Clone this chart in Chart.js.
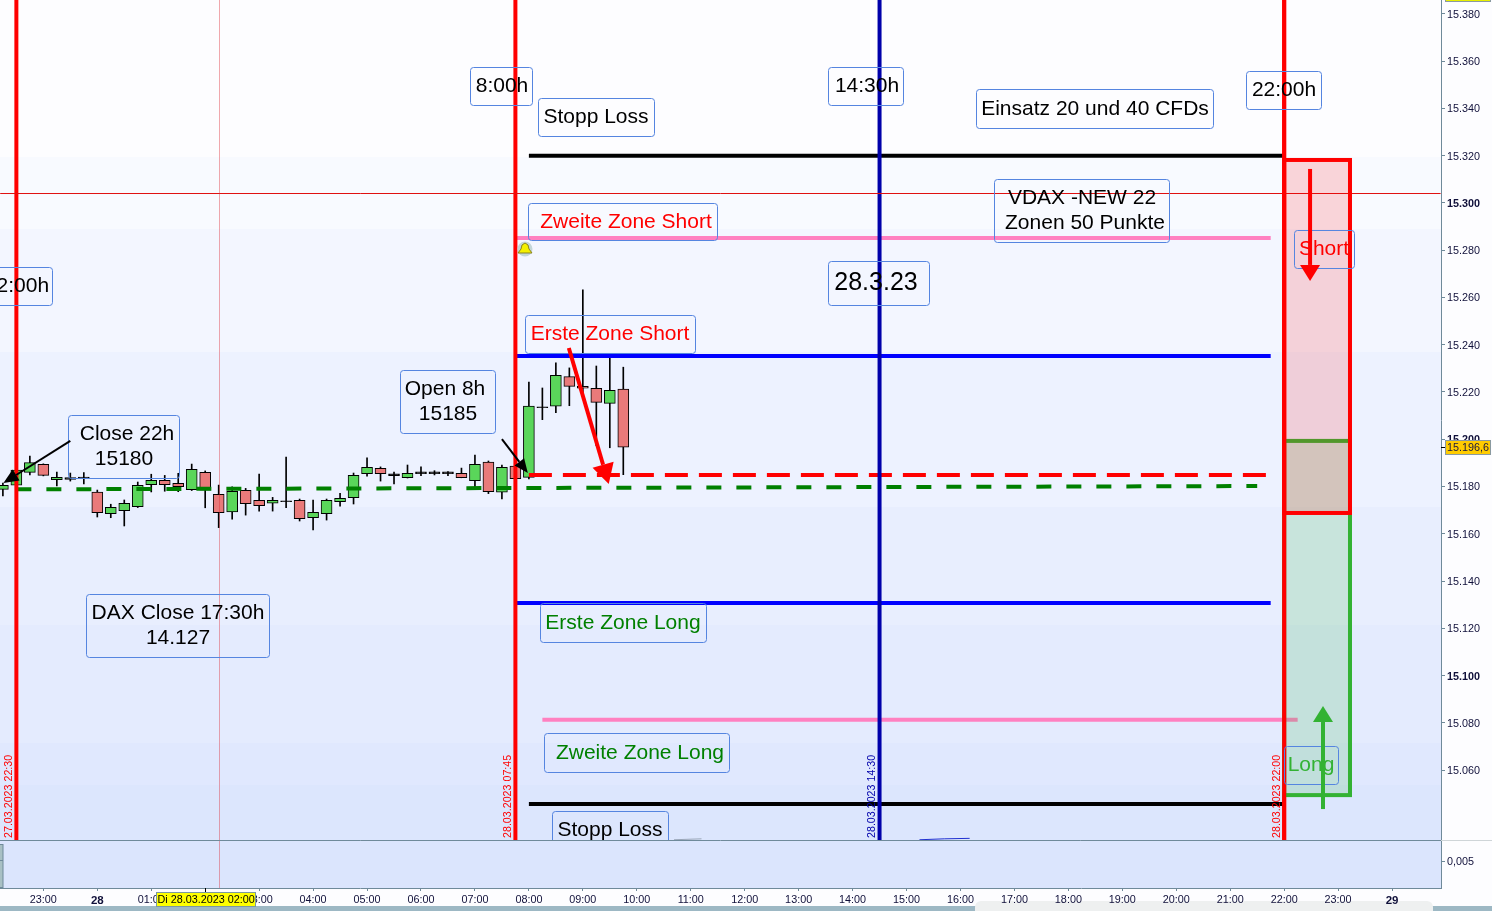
<!DOCTYPE html>
<html>
<head>
<meta charset="utf-8">
<title>DAX 28.3.23</title>
<style>
  html, body { margin: 0; padding: 0; background: #fdfdff; overflow: hidden; }
  canvas { display: block; }
</style>
<script src="https://cdn.jsdelivr.net/npm/chart.js@4/dist/chart.umd.min.js"></script>
</head>
<body>
<canvas id="chart" width="1492" height="911"></canvas>
<script>
// Kerzen, 15 Minuten, Stunden relativ zu 28.03. 00:00
const candleHours = [-1.75,-1.5,-1.25,-1,-0.75,-0.5,-0.25,0,0.25,0.5,0.75,1,1.25,1.5,1.75,2,2.25,2.5,2.75,3,3.25,3.5,3.75,4,4.25,4.5,4.75,5,5.25,5.5,5.75,6,6.25,6.5,6.75,7,7.25,7.5,7.75,8,8.25,8.5,8.75,9,9.25,9.5,9.75];
const opens = [15178.8,15180.6,15186.0,15189.4,15182.9,15183.0,15183.3,15177.6,15168.5,15169.8,15171.5,15180.8,15182.6,15181.4,15178.7,15186.0,15176.7,15169.3,15178.4,15174.2,15172.9,15173.6,15174.2,15166.8,15168.5,15173.6,15175.3,15185.4,15187.7,15185.4,15183.7,15186.2,15186.2,15186.2,15185.6,15182.5,15190.3,15177.6,15188.6,15183.9,15213.4,15214.0,15226.5,15222.4,15221.6,15215.2,15221.2];
const closes = [15180.5,15187.0,15190.1,15184.7,15183.9,15183.8,15184.0,15168.9,15171.2,15172.9,15180.5,15182.6,15180.8,15179.9,15187.3,15178.5,15168.9,15178.0,15172.7,15171.9,15174.2,15173.9,15166.4,15169.1,15174.2,15175.0,15184.7,15188.1,15185.4,15184.6,15185.6,15185.4,15185.4,15185.4,15183.7,15189.4,15177.8,15188.1,15183.3,15214.0,15213.7,15227.1,15222.4,15221.6,15215.6,15220.7,15196.6];
const highs = [15181.5,15187.8,15192.9,15189.6,15186.1,15185.7,15185.9,15178.5,15172.5,15174.3,15181.9,15185.2,15184.7,15185.6,15189.5,15186.6,15180.6,15179.9,15179.2,15185.3,15175.4,15192.5,15174.7,15174.3,15174.7,15177.1,15185.7,15192.1,15188.3,15186.1,15189.1,15188.3,15186.7,15186.3,15187.8,15193.3,15190.8,15189.1,15189.1,15224.2,15221.7,15232.3,15230.2,15263.2,15231.0,15234.3,15230.5];
const lows = [15176.0,15179.8,15184.9,15184.5,15180.3,15182.3,15181.1,15167.1,15166.8,15163.3,15171.1,15177.7,15178.0,15177.8,15178.3,15171.0,15162.6,15166.2,15167.9,15169.6,15169.6,15171.0,15165.4,15161.6,15165.8,15171.7,15172.6,15184.4,15182.3,15181.1,15183.6,15184.6,15184.9,15184.6,15183.7,15179.9,15177.0,15174.8,15182.8,15183.2,15208.3,15211.2,15214.2,15219.6,15197.3,15196.4,15185.0];

// Zonen und Level (Preis)
const stopShort = 15320, stopLong = 15045.6;
const zone2Short = 15285.2, zone1Short = 15235.2;
const zone1Long = 15130.7, zone2Long = 15081.3;
const open8h = 15184.9;
const close22h = [15178.8, 15180.2];
const crossPrice = 15304.0, crossHour = 2.256;
const lastPrice = 15196.6;

// Zeitmarken (Stunden)
const sessionHours = [-1.5, 7.75, 22];
const usOpenHour = 14.5;
const sessionLabels = ['27.03.2023 22:30', '28.03.2023 07:45', '28.03.2023 22:00'];
const usOpenLabel = '28.03.2023 14:30';

// Achsen
const xTickHours = [-1,0,1,2,3,4,5,6,7,8,9,10,11,12,13,14,15,16,17,18,19,20,21,22,23,24];
const xTickLabels = ['23:00','28','01:00','02:00','03:00','04:00','05:00','06:00','07:00','08:00','09:00','10:00','11:00','12:00','13:00','14:00','15:00','16:00','17:00','18:00','19:00','20:00','21:00','22:00','23:00','29'];
const yTickValues = [15380,15360,15340,15320,15300,15280,15260,15240,15220,15200,15180,15160,15140,15120,15100,15080,15060];
const yTickLabels = ['15.380','15.360','15.340','15.320','15.300','15.280','15.260','15.240','15.220','15.200','15.180','15.160','15.140','15.120','15.100','15.080','15.060'];
const boldPrices = [15300, 15200, 15100];

const FONT = '"Liberation Sans", Arial, sans-serif';
const AXIS = '#6f8a9a';
const GREEN = '#33b233';

function hline(data, color, width, dash, order) {
    return { type: 'line', data, borderColor: color, borderWidth: width, borderDash: dash || [],
             pointRadius: 0, tension: 0, fill: false, order: order || 1, borderCapStyle: 'butt' };
}

const Y_MIN = 15030.4, Y_MAX = 15385.9;

function candleColor(i) {
    if (Math.abs(closes[i] - opens[i]) < 0.5 || (Math.abs(closes[i] - opens[i]) < 0.9 && i !== 42 && i !== 43)) return '#000000';
    return closes[i] >= opens[i] ? '#5ad65a' : '#e97a7a';
}

const datasets = [
    hline([{x: -1.8, y: crossPrice}, {x: 24.9, y: crossPrice}], '#e01010', 1, null, 0),
    hline([{x: sessionHours[0], y: Y_MIN}, {x: sessionHours[0], y: Y_MAX}], '#ff0000', 4),
    hline([{x: sessionHours[1], y: Y_MIN}, {x: sessionHours[1], y: Y_MAX}], '#ff0000', 4),
    hline([{x: sessionHours[2], y: Y_MIN}, {x: sessionHours[2], y: Y_MAX}], '#ff0000', 4),
    hline([{x: usOpenHour, y: Y_MIN}, {x: usOpenHour, y: Y_MAX}], '#0000aa', 4),
    hline([{x: 8, y: stopShort}, {x: 22, y: stopShort}], '#000000', 4),
    hline([{x: 7.75, y: zone2Short}, {x: 21.75, y: zone2Short}], '#ff80c0', 4),
    hline([{x: 7.75, y: zone1Short}, {x: 21.75, y: zone1Short}], '#0000ff', 4),
    hline([{x: 7.75, y: zone1Long}, {x: 21.75, y: zone1Long}], '#0000ff', 4),
    hline([{x: 8.25, y: zone2Long}, {x: 22.25, y: zone2Long}], '#ff80c0', 4),
    hline([{x: 8, y: stopLong}, {x: 22, y: stopLong}], '#000000', 4),
    hline([{x: 8, y: open8h}, {x: 21.7, y: open8h}], '#ff0000', 4, [23, 11]),
    hline([{x: -1.5, y: close22h[0]}, {x: 21.5, y: close22h[1]}], '#008000', 4, [15, 15]),
    hline([{x: 10.69, y: 15030.5}, {x: 11.2, y: 15030.9}], '#9aa6b8', 1),
    hline([{x: 15.24, y: 15030.5}, {x: 15.7, y: 15030.9}, {x: 16.17, y: 15031.1}], '#2030d0', 1),
    {
        type: 'bar', order: 5, grouped: false, barThickness: 11, borderWidth: 1, borderColor: '#000000',
        borderSkipped: false,
        backgroundColor: candleHours.map((h, i) => candleColor(i)),
        data: candleHours.map((h, i) => ({x: h, y: [opens[i], closes[i]]}))
    },
    {
        type: 'bar', order: 6, grouped: false, barThickness: 1, borderWidth: 0, backgroundColor: '#000000',
        data: candleHours.map((h, i) => ({x: h, y: [lows[i], highs[i]]}))
    }
];

// Hintergrund-Streifen: Unterkante in Pixel, Farbe
const bands = [[157, '#fdfdff'], [229, '#f8faff'], [352, '#f3f6ff'], [507, '#edf2ff'], [625, '#e8eefe'], [743, '#e4ebfe'], [785, '#e0e8fe'], [840, '#dce6fd']];

// Beschriftungen: Text, Box, Farbe, Schriftgrad, Textmitte
const labels = [
    {lines: ['8:00h'], box: [470, 67, 533, 106], cx: 502},
    {lines: ['14:30h'], box: [828, 67, 904, 106], cx: 867},
    {lines: ['22:00h'], box: [1246, 71, 1322, 110], cx: 1284},
    {lines: ['Stopp Loss'], box: [538, 98, 655, 137], cx: 596},
    {lines: ['Einsatz 20 und 40 CFDs'], box: [976, 89, 1214, 129], cx: 1095},
    {lines: ['VDAX -NEW 22', 'Zonen 50 Punkte'], box: [994, 179, 1170, 243], cx: 1083, cxs: [1082, 1085]},
    {lines: ['Zweite Zone Short'], box: [528, 203, 718, 241], cx: 626, color: '#ff0000'},
    {lines: ['28.3.23'], box: [828, 261, 930, 306], cx: 876, size: 25},
    {lines: ['22:00h'], box: [-23, 267, 53, 306], cx: 17},
    {lines: ['Erste Zone Short'], box: [525, 315, 696, 354], cx: 610, color: '#ff0000'},
    {lines: ['Open 8h', '15185'], box: [400, 370, 496, 434], cx: 447, cxs: [445, 448]},
    {lines: ['Close 22h', '15180'], box: [68, 415, 180, 479], cx: 126, cxs: [127, 124]},
    {lines: ['DAX Close 17:30h', '14.127'], box: [86, 594, 270, 658], cx: 178},
    {lines: ['Erste Zone Long'], box: [540, 603, 707, 643], cx: 623, color: '#008000'},
    {lines: ['Zweite Zone Long'], box: [544, 733, 730, 773], cx: 640, color: '#008000'},
    {lines: ['Stopp Loss'], box: [552, 811, 669, 850], cx: 610},
    {lines: ['Short'], box: [1294, 230, 1355, 269], cx: 1324, color: '#ff0000'},
    {lines: ['Long'], box: [1284, 746, 1339, 785], cx: 1311, color: GREEN}
];

function roundBox(ctx, b) {
    ctx.beginPath();
    ctx.roundRect(b[0] + 0.5, b[1] + 0.5, b[2] - b[0] - 1, b[3] - b[1] - 1, 3);
}

function arrow(ctx, x1, y1, x2, y2, color, width, headLen, headWid) {
    const a = Math.atan2(y2 - y1, x2 - x1);
    const bx = x2 - Math.cos(a) * headLen, by = y2 - Math.sin(a) * headLen;
    ctx.strokeStyle = color;
    ctx.fillStyle = color;
    ctx.lineWidth = width;
    ctx.beginPath();
    ctx.moveTo(x1, y1);
    ctx.lineTo(bx, by);
    ctx.stroke();
    ctx.beginPath();
    ctx.moveTo(x2, y2);
    ctx.lineTo(bx - Math.sin(a) * headWid / 2, by + Math.cos(a) * headWid / 2);
    ctx.lineTo(bx + Math.sin(a) * headWid / 2, by - Math.cos(a) * headWid / 2);
    ctx.closePath();
    ctx.fill();
}

const deko = {
    id: 'deko',
    beforeDraw(chart) {
        const ctx = chart.ctx;
        ctx.save();
        ctx.fillStyle = '#fdfdff';
        ctx.fillRect(0, 0, 1492, 911);
        let top = 0;
        bands.forEach(b => {
            ctx.fillStyle = b[1];
            ctx.fillRect(0, top, 1441, b[0] - top);
            top = b[0];
        });
        ctx.fillStyle = '#dbe5fd';
        ctx.fillRect(0, 840, 1441, 48);

        // Leiste unten, liegt hinter den Zeitlabels
        ctx.fillStyle = '#9db8c4';
        ctx.fillRect(0, 906, 1492, 5);
        ctx.fillStyle = '#eef0f0';
        ctx.beginPath();
        ctx.roundRect(975, 901, 458, 12, [6, 6, 0, 0]);
        ctx.fill();
        ctx.restore();
    },
    afterDatasetsDraw(chart) {
        const ctx = chart.ctx, X = chart.scales.x, Y = chart.scales.y;
        const px = h => X.getPixelForValue(h), py = v => Y.getPixelForValue(v);
        ctx.save();

        // Zielboxen Long / Short
        const boxX1 = px(22), boxX2 = px(23.22);
        const drawBox = (hi, lo, fill, line) => {
            ctx.fillStyle = fill;
            ctx.fillRect(boxX1, py(hi), boxX2 - boxX1, py(lo) - py(hi));
            ctx.strokeStyle = line;
            ctx.lineWidth = 4;
            ctx.strokeRect(boxX1, py(hi), boxX2 - boxX1, py(lo) - py(hi));
        };
        drawBox(15199.3, 15049.4, 'rgba(50,180,60,0.178)', GREEN);
        drawBox(15318.2, 15168.8, 'rgba(255,0,0,0.15)', '#ff0000');
        ctx.strokeStyle = '#ff0000';
        ctx.lineWidth = 4;
        ctx.beginPath();
        ctx.moveTo(px(22), 0);
        ctx.lineTo(px(22), 840);
        ctx.stroke();

        // Fadenkreuz senkrecht
        ctx.strokeStyle = 'rgba(220,40,50,0.4)';
        ctx.lineWidth = 1;
        ctx.beginPath();
        ctx.moveTo(Math.round(px(crossHour)) + 0.5, 0);
        ctx.lineTo(Math.round(px(crossHour)) + 0.5, 888);
        ctx.stroke();

        // Beschriftungen
        ctx.beginPath();
        ctx.rect(0, 0, 1441, 840);
        ctx.clip();
        ctx.textBaseline = 'middle';
        ctx.textAlign = 'center';
        labels.forEach(l => {
            ctx.strokeStyle = '#5585e0';
            ctx.lineWidth = 1;
            roundBox(ctx, l.box);
            ctx.stroke();
            ctx.fillStyle = l.color || '#000000';
            ctx.font = (l.size || 21) + 'px ' + FONT;
            const cy = (l.box[1] + l.box[3]) / 2;
            l.lines.forEach((t, i) => {
                const x = l.cxs ? l.cxs[i] : l.cx;
                ctx.fillText(t, x, cy + (i - (l.lines.length - 1) / 2) * 25);
            });
        });

        // Pfeile
        arrow(ctx, px(-0.5), py(15199.3), px(-1.74), py(15181.5), '#000000', 2, 15, 13);
        arrow(ctx, px(7.5), py(15200.1), px(7.98), py(15185.7), '#000000', 2, 14, 12);
        arrow(ctx, px(8.74), py(15238.6), px(9.48), py(15181.1), '#ff0000', 4, 20, 22);
        arrow(ctx, px(22.48), py(15314.4), px(22.48), py(15267.0), '#ff0000', 4, 16, 20);
        arrow(ctx, px(22.72), py(15043.5), px(22.72), py(15087.1), GREEN, 4, 16, 20);

        // Datumstexte senkrecht
        ctx.font = '10.7px ' + FONT;
        ctx.textAlign = 'left';
        const vtext = (t, h, color) => {
            ctx.save();
            ctx.translate(px(h) - 7, 838);
            ctx.rotate(-Math.PI / 2);
            ctx.fillStyle = color;
            ctx.fillText(t, 0, 0);
            ctx.restore();
        };
        sessionHours.forEach((h, i) => vtext(sessionLabels[i], h, '#ff0000'));
        vtext(usOpenLabel, usOpenHour, '#0000aa');

        // Glocke
        ctx.fillStyle = '#c3d6d8';
        ctx.beginPath();
        ctx.arc(525, 249, 7.5, 0, Math.PI * 2);
        ctx.fill();
        ctx.fillStyle = '#f4f000';
        ctx.strokeStyle = '#8a8420';
        ctx.lineWidth = 1;
        ctx.beginPath();
        ctx.moveTo(525, 243);
        ctx.quadraticCurveTo(529, 244, 529, 249);
        ctx.lineTo(532, 253);
        ctx.lineTo(518, 253);
        ctx.lineTo(521, 249);
        ctx.quadraticCurveTo(521, 244, 525, 243);
        ctx.closePath();
        ctx.fill();
        ctx.stroke();
        ctx.restore();
    },
    afterDraw(chart) {
        const ctx = chart.ctx, Y = chart.scales.y;
        ctx.save();

        // Trennlinien
        ctx.strokeStyle = AXIS;
        ctx.lineWidth = 1;
        ctx.beginPath();
        ctx.moveTo(0, 840.5);
        ctx.lineTo(1441, 840.5);
        ctx.stroke();
        ctx.strokeStyle = '#cfd5d8';
        ctx.beginPath();
        ctx.moveTo(1441, 840.5);
        ctx.lineTo(1492, 840.5);
        ctx.stroke();

        // linker Rand unteres Fenster
        ctx.fillStyle = '#a8c0c4';
        ctx.fillRect(0, 844, 3, 44);
        ctx.strokeStyle = AXIS;
        ctx.strokeRect(-1, 844.5, 4, 43);
        ctx.beginPath();
        ctx.moveTo(0, 860.5);
        ctx.lineTo(3, 860.5);
        ctx.stroke();

        // Kursmarke
        const yLast = Math.round(Y.getPixelForValue(lastPrice));
        ctx.strokeStyle = '#000000';
        ctx.beginPath();
        ctx.moveTo(1441, yLast + 0.5);
        ctx.lineTo(1446, yLast + 0.5);
        ctx.stroke();
        ctx.fillStyle = '#ffcc00';
        ctx.fillRect(1445.5, yLast - 6.5, 45, 14);
        ctx.strokeStyle = '#8a9aa0';
        ctx.strokeRect(1445.5, yLast - 6.5, 45, 14);
        ctx.fillStyle = '#1a1a40';
        ctx.font = '10.8px ' + FONT;
        ctx.textAlign = 'left';
        ctx.textBaseline = 'middle';
        ctx.fillText('15.196,6', 1447, yLast + 1);

        // zweite Kursmarke oben, fast abgeschnitten
        ctx.fillStyle = '#e8f000';
        ctx.fillRect(1445.5, 0, 45, 1.5);
        ctx.strokeStyle = '#8a9aa0';
        ctx.strokeRect(1445.5, -2, 45, 3.5);

        // Zeitmarke
        ctx.fillStyle = '#ffff00';
        ctx.fillRect(156.5, 892.5, 99, 14);
        ctx.strokeStyle = '#7a9aa0';
        ctx.strokeRect(156.5, 892.5, 99, 14);
        ctx.fillStyle = '#000000';
        ctx.font = '10.8px ' + FONT;
        ctx.fillText('Di 28.03.2023 02:00', 157.5, 900);
        ctx.strokeStyle = '#000000';
        ctx.beginPath();
        ctx.moveTo(205.5, 888);
        ctx.lineTo(205.5, 892);
        ctx.stroke();
        ctx.restore();
    }
};

function noPad(s) {
    s.paddingTop = 0;
    s.paddingBottom = 0;
    s.paddingLeft = 0;
    s.paddingRight = 0;
}

new Chart(document.getElementById('chart'), {
    data: { datasets },
    plugins: [deko],
    options: {
        responsive: false,
        animation: false,
        devicePixelRatio: 1,
        layout: { padding: 0 },
        plugins: { legend: { display: false }, tooltip: { enabled: false } },
        scales: {
            x: {
                type: 'linear',
                position: 'bottom',
                offset: false,
                min: -1.8035,
                max: 24.907,
                afterBuildTicks: s => { s.ticks = xTickHours.map(v => ({value: v})); },
                afterFit: s => { s.height = 23; noPad(s); },
                border: { color: AXIS },
                grid: { offset: false, drawOnChartArea: false, tickLength: 3, color: AXIS },
                ticks: {
                    autoSkip: false, maxRotation: 0, padding: 3, color: '#10103a',
                    font: c => (c.tick && (c.tick.value === 0 || c.tick.value === 24))
                        ? {family: FONT, size: 11.5, weight: 'bold'} : {family: FONT, size: 10.8},
                    callback: (v, i) => xTickLabels[i]
                }
            },
            y: {
                type: 'linear',
                position: 'right',
                stack: 'panes',
                stackWeight: 840,
                min: Y_MIN,
                max: Y_MAX,
                afterBuildTicks: s => { s.ticks = yTickValues.map(v => ({value: v})); },
                afterFit: s => { s.width = 51; noPad(s); },
                border: { color: AXIS },
                grid: { drawOnChartArea: false, tickLength: 4, color: AXIS },
                ticks: {
                    autoSkip: false, padding: 2, labelOffset: 1, color: '#10103a',
                    font: c => (c.tick && boldPrices.includes(c.tick.value))
                        ? {family: FONT, size: 10.8, weight: 'bold'} : {family: FONT, size: 10.8},
                    callback: (v, i) => yTickLabels[i]
                }
            },
            y2: {
                type: 'linear',
                position: 'right',
                stack: 'panes',
                stackWeight: 48,
                min: 0,
                max: 0.00923,
                afterBuildTicks: s => { s.ticks = [{value: 0.005}]; },
                afterFit: s => { s.width = 51; noPad(s); },
                border: { color: AXIS },
                grid: { drawOnChartArea: false, tickLength: 4, color: AXIS },
                ticks: {
                    padding: 2, color: '#10103a', font: {family: FONT, size: 10.8},
                    callback: () => '0,005'
                }
            }
        }
    }
});
</script>
</body>
</html>
